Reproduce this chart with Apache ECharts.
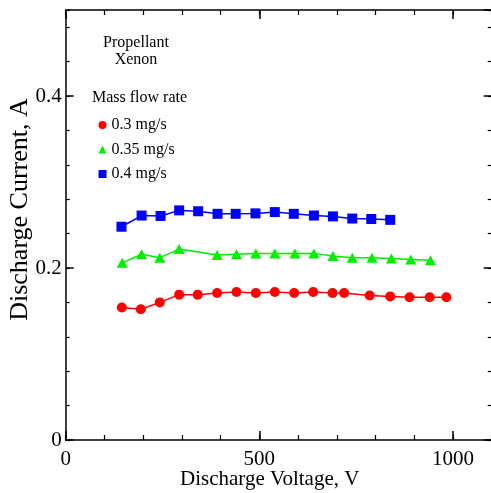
<!DOCTYPE html>
<html>
<head>
<meta charset="utf-8">
<script src="https://cdn.jsdelivr.net/npm/echarts@6/dist/echarts.min.js"></script>
<style>
  html, body { margin: 0; padding: 0; background: #fff; }
  #chart { width: 491px; height: 493px; }
</style>
</head>
<body>
<div id="chart"></div>
<script>
// values
const seriesNames = ['0.3 mg/s', '0.35 mg/s', '0.4 mg/s'];

const voltage03 = [145, 194, 243, 293, 341, 391, 441, 491, 540, 590, 639, 689, 719, 785, 838, 888, 940, 983];
const current03 = [0.154, 0.152, 0.160, 0.169, 0.169, 0.171, 0.172, 0.171, 0.172, 0.171, 0.172, 0.171, 0.171, 0.168, 0.167, 0.166, 0.166, 0.166];

const voltage035 = [146, 196, 243, 293, 391, 441, 491, 540, 592, 641, 690, 740, 791, 841, 891, 942];
const current035 = [0.206, 0.216, 0.212, 0.222, 0.215, 0.216, 0.217, 0.217, 0.217, 0.217, 0.214, 0.212, 0.212, 0.211, 0.210, 0.209];

const voltage04 = [144, 196, 245, 293, 342, 392, 439, 490, 540, 589, 641, 690, 740, 789, 838];
const current04 = [0.248, 0.261, 0.2605, 0.267, 0.266, 0.263, 0.263, 0.2635, 0.265, 0.263, 0.261, 0.260, 0.2575, 0.257, 0.256];

const xTicks = ['0', '500', '1000'];
const yTicks = ['0', '0.2', '0.4'];

const font = 'Liberation Serif';

function pairs(xs, ys) {
  return xs.map((x, i) => [x, ys[i]]);
}

function majorX(pos, labels) {
  return {
    type: 'value', position: pos, min: 0, max: 1100, interval: 500,
    name: labels ? 'Discharge Voltage, V' : '',
    nameLocation: 'middle', nameGap: 29, nameMoveOverlap: false,
    nameTextStyle: { fontFamily: font, fontSize: 21, color: '#000', padding: [0, 18, 0, 0] },
    axisLine: { show: true, onZero: false, lineStyle: { color: '#000', width: 1.5 } },
    axisTick: { show: true, inside: true, length: 9, lineStyle: { color: '#000', width: 1.5 } },
    axisLabel: {
      show: labels, margin: 9, showMaxLabel: false,
      fontFamily: font, fontSize: 21, color: '#000',
      formatter: v => xTicks.includes(String(v)) ? String(v) : ''
    },
    splitLine: { show: false }
  };
}

function minorX(pos) {
  return {
    type: 'value', position: pos, min: 0, max: 1100, interval: 100,
    axisLine: { show: false, onZero: false },
    axisTick: { show: true, inside: true, length: 5, lineStyle: { color: '#000', width: 1.2 } },
    axisLabel: { show: false },
    splitLine: { show: false }
  };
}

function majorY(pos, labels) {
  return {
    type: 'value', position: pos, min: 0, max: 0.5, interval: 0.2,
    name: labels ? 'Discharge Current, A' : '',
    nameLocation: 'middle', nameGap: 32.5, nameRotate: 90, nameMoveOverlap: false,
    nameTextStyle: { fontFamily: font, fontSize: 26, color: '#000', padding: [0, 0, 0, 31] },
    axisLine: { show: true, onZero: false, lineStyle: { color: '#000', width: 1.5 } },
    axisTick: { show: true, inside: true, length: 8, lineStyle: { color: '#000', width: 1.5 } },
    axisLabel: {
      show: labels, margin: 4, showMaxLabel: false,
      fontFamily: font, fontSize: 21, color: '#000',
      formatter: v => {
        const s = String(Math.round(v * 10) / 10);
        return yTicks.includes(s) ? s : '';
      }
    },
    splitLine: { show: false }
  };
}

function minorY(pos) {
  return {
    type: 'value', position: pos, min: 0, max: 0.5, interval: 0.04,
    axisLine: { show: false, onZero: false },
    axisTick: { show: true, inside: true, length: 4, lineStyle: { color: '#000', width: 1.2 } },
    axisLabel: { show: false },
    splitLine: { show: false }
  };
}

function lineSeries(name, color, symbol, size, data) {
  return {
    name: name, type: 'line', xAxisIndex: 0, yAxisIndex: 0,
    symbol: symbol, symbolSize: size, showAllSymbol: true,
    lineStyle: { color: color, width: 1.5 },
    itemStyle: { color: color },
    data: data
  };
}

const chart = echarts.init(document.getElementById('chart'));

const option = {
  animation: false,
  backgroundColor: '#fff',
  grid: { left: 65.7, top: 10, width: 426, height: 430, containLabel: false, outerBoundsMode: 'none' },
  title: [
    {
      text: 'Propellant\nXenon', left: 131, top: 29, textAlign: 'center',
      textStyle: { fontFamily: font, fontSize: 16, fontWeight: 'normal', color: '#000', lineHeight: 17 }
    },
    {
      text: 'Mass flow rate', left: 87, top: 85,
      textStyle: { fontFamily: font, fontSize: 16, fontWeight: 'normal', color: '#000' }
    }
  ],
  legend: {
    orient: 'vertical', left: 93.5, top: 112,
    itemWidth: 8, itemHeight: 8, itemGap: 8.5,
    textStyle: { fontFamily: font, fontSize: 16, color: '#000', lineHeight: 16 },
    data: [
      { name: seriesNames[0], icon: 'circle' },
      { name: seriesNames[1], icon: 'triangle' },
      { name: seriesNames[2], icon: 'rect' }
    ]
  },
  xAxis: [majorX('bottom', true), minorX('bottom'), majorX('top', false), minorX('top')],
  yAxis: [majorY('left', true), minorY('left'), majorY('right', false), minorY('right')],
  series: [
    lineSeries(seriesNames[0], '#ff0000', 'circle', 10, pairs(voltage03, current03)),
    lineSeries(seriesNames[1], '#00ee00', 'triangle', [11, 10], pairs(voltage035, current035)),
    lineSeries(seriesNames[2], '#0000ff', 'rect', 10, pairs(voltage04, current04))
  ]
};

chart.setOption(option);
</script>
</body>
</html>
